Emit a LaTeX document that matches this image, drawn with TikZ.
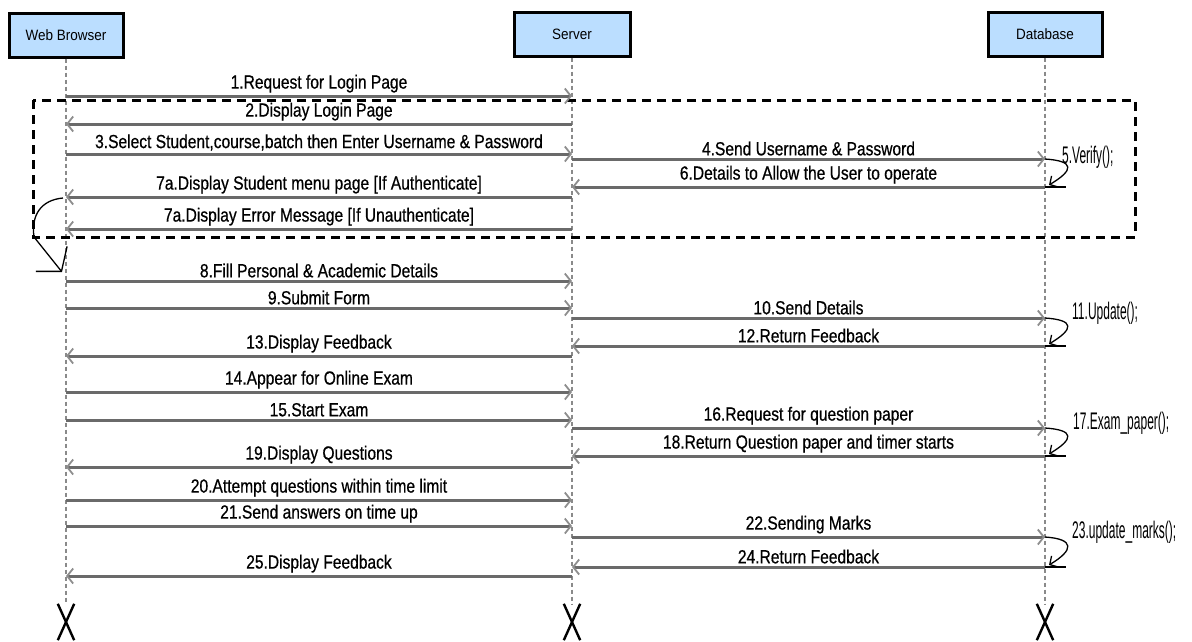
\documentclass[tikz,border=0pt]{standalone}
\usepackage{fontspec}
\setmainfont{Liberation Sans}
\newfontfamily\msgfont[FakeStretch=0.82,FakeBold=0.6]{Liberation Sans}
\newfontfamily\headfont[FakeStretch=0.9]{Liberation Sans}
\newfontfamily\callfont[FakeStretch=0.5]{Liberation Sans}
\usetikzlibrary{arrows.meta,calc}

\definecolor{headfill}{HTML}{BBDEFF}
\definecolor{msggray}{HTML}{6A6A6A}
\definecolor{tipgray}{HTML}{8E8E8E}
\definecolor{lifegray}{HTML}{8A8A8A}

\tikzset{
  head/.style={draw=black, line width=3pt, fill=headfill, minimum width=114pt,
    minimum height=44pt, inner sep=0pt, font=\headfont\fontsize{15}{15}\selectfont},
  lifeline/.style={draw=lifegray, line width=1.4pt, dash pattern=on 4pt off 3pt},
  msg/.style={draw=msggray, line width=3pt,
    -{Straight Barb[length=6pt,width=15pt,line width=1.8pt,color=tipgray]}},
  msglabel/.style={font=\msgfont\fontsize{19}{19}\selectfont, inner sep=1pt, above=1pt, text=black},
  fragment/.style={draw=black, line width=3pt, dash pattern=on 9pt off 6pt},
  selfcall/.style={draw=black, line width=1.3pt, -{Straight Barb[length=6pt,width=13pt,line width=1.3pt]}},
  callend/.style={draw=black, line width=1.6pt},
  calllabel/.style={font=\callfont\fontsize{24}{24}\selectfont, anchor=west, inner sep=0pt},
  branch/.style={draw=black, line width=1.3pt, -{Straight Barb[length=16pt,width=40pt,line width=1.3pt]}},
  destroy/.style={minimum width=16pt, minimum height=36pt, inner sep=0pt},
  xmark/.style={draw=black, line width=2.4pt}
}

\begin{document}
\begin{tikzpicture}[x=1pt, y=-1pt]
  \useasboundingbox (0,0) rectangle (1192,641);

  % participants
  \node[head] (wb) at (66,35) {Web Browser};
  \node[head, minimum width=116pt] (srv) at (572,34) {Server};
  \node[head] (db) at (1045,34) {Database};

  % destruction marks
  \node[destroy] (wbx) at (66,622) {};
  \node[destroy] (srvx) at (572,622) {};
  \node[destroy] (dbx) at (1045,622) {};
  \foreach \n in {wbx,srvx,dbx}
    \draw[xmark] (\n.north west) -- (\n.south east) (\n.north east) -- (\n.south west);

  % lifelines
  \draw[lifeline] (wb.south) -- (wbx.north);
  \draw[lifeline] (srv.south) -- (srvx.north);
  \draw[lifeline] (db.south) -- (dbx.north);

  % message rows
  \foreach \r/\y in {1/96, 2/124, 3/154, 4/159, 6/187, 7/197, 7b/229, 8/281, 9/308,
      10/318, 12/346, 13/356, 14/392, 15/420, 16/428, 18/456, 19/467, 20/500,
      21/526, 22/537, 24/567, 25/576}
    \coordinate (r\r) at (0,\y);

  % login fragment
  \coordinate (fragA) at (33,100);
  \coordinate (fragB) at (1135,237);
  \draw[fragment] (fragA) rectangle (fragB);

  % browser <-> server
  \draw[msg] (wb |- r1) -- node[msglabel] {1.Request for Login Page} (srv |- r1);
  \draw[msg] (srv |- r2) -- node[msglabel] {2.Display Login Page} (wb |- r2);
  \draw[msg] (wb |- r3) -- node[msglabel] {3.Select Student,course,batch then Enter Username \& Password} (srv |- r3);
  \draw[msg] (srv |- r7) -- node[msglabel] {7a.Display Student menu page [If Authenticate]} (wb |- r7);
  \draw[msg] (srv |- r7b) -- node[msglabel] {7a.Display Error Message [If Unauthenticate]} (wb |- r7b);
  \draw[msg] (wb |- r8) -- node[msglabel] {8.Fill Personal \& Academic Details} (srv |- r8);
  \draw[msg] (wb |- r9) -- node[msglabel] {9.Submit Form} (srv |- r9);
  \draw[msg] (srv |- r13) -- node[msglabel] {13.Display Feedback} (wb |- r13);
  \draw[msg] (wb |- r14) -- node[msglabel] {14.Appear for Online Exam} (srv |- r14);
  \draw[msg] (wb |- r15) -- node[msglabel] {15.Start Exam} (srv |- r15);
  \draw[msg] (srv |- r19) -- node[msglabel] {19.Display Questions} (wb |- r19);
  \draw[msg] (wb |- r20) -- node[msglabel] {20.Attempt questions within time limit} (srv |- r20);
  \draw[msg] (wb |- r21) -- node[msglabel] {21.Send answers on time up} (srv |- r21);
  \draw[msg] (srv |- r25) -- node[msglabel] {25.Display Feedback} (wb |- r25);

  % server <-> database
  \draw[msg] (srv |- r4) -- node[msglabel] {4.Send Username \& Password} (db |- r4);
  \draw[msg] (db |- r6) -- node[msglabel] {6.Details to Allow the User to operate} (srv |- r6);
  \draw[msg] (srv |- r10) -- node[msglabel] {10.Send Details} (db |- r10);
  \draw[msg] (db |- r12) -- node[msglabel] {12.Return Feedback} (srv |- r12);
  \draw[msg] (srv |- r16) -- node[msglabel] {16.Request for question paper} (db |- r16);
  \draw[msg] (db |- r18) -- node[msglabel] {18.Return Question paper and timer starts} (srv |- r18);
  \draw[msg] (srv |- r22) -- node[msglabel] {22.Sending Marks} (db |- r22);
  \draw[msg] (db |- r24) -- node[msglabel] {24.Return Feedback} (srv |- r24);

  % self calls on the database
  \foreach \a/\b/\txt/\dx/\dy in {4/6/{5.Verify();}/17/-2, 10/12/{11.Update();}/27/-5,
      16/18/{17.Exam\_paper();}/28/-5, 22/24/{23.update\_marks();}/27/-5} {
    \draw[selfcall] (db |- r\a) .. controls +(30,2) and +(25,-15) .. ($(db |- r\b)+(4,-2)$);
    \draw[callend] (db |- r\b) -- ++(21,0);
    \node[calllabel] at ($(db |- r\a)+(\dx,\dy)$) {\txt};
  }

  % flow continues after the fragment
  \coordinate (turn) at (34,237);
  \coordinate (resume) at (62,272);
  \draw[branch] ($(wb |- r7)+(-3,1)$) .. controls +(-22,2) and +(-3,-22) .. (turn) -- (resume);
\end{tikzpicture}
\end{document}
